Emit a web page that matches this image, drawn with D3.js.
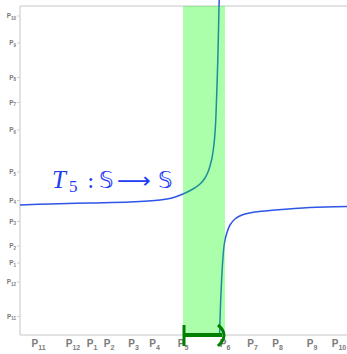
<!DOCTYPE html>
<html><head><meta charset="utf-8">
<script src="https://cdn.jsdelivr.net/npm/d3@7"></script>
<style>body{margin:0;background:#fff}svg{display:block}</style>
</head><body>
<script>
// tick positions (same scale on both axes) and their labels
const tickLabels = ["11","12","1","2","3","4","5","6","7","8","9","10"];
const tickValues = [18.5, 53, 72, 89, 113.5, 134.5, 163, 205, 232.5, 257.5, 292, 319];
// curve branches [x, y]
const leftBranch = [[0,130],[30,131],[70,132],[110,133],[140,135],[152,137],[163,141],[173,146],[180,151],[185,157],[188,163],[190,169],[192,177],[194,191],[195.5,210],[196.5,235],[197.5,265],[198.3,295],[199,329],[199.3,338]];
const rightBranch = [[199.6,0],[200,15],[200.7,35],[201.6,55],[202.8,75],[204.3,91],[206.5,101],[210,110],[215,116],[222,120],[235,123],[255,125],[290,127.5],[327,128.5]];
const bandFrom = 6, bandTo = 7; // indices of P5 and P6
const titleParts = ["T", "5", ":", "𝕊", "⟶", "𝕊"];

const W = 347, H = 354;
const svg = d3.select("body").append("svg").attr("width", W).attr("height", H);
const x = d3.scaleLinear().domain([0, 327]).range([20, 347]);
const y = d3.scaleLinear().domain([0, 329]).range([335, 6]);

// frame lines
const g = svg.append("g");
g.append("line").attr("x1", x(0)).attr("x2", x(327)).attr("y1", y(329)).attr("y2", y(329)).attr("stroke", "#d9d9d9").attr("stroke-width", 1.5);
g.append("line").attr("x1", x(0)).attr("x2", x(327)).attr("y1", y(0)).attr("y2", y(0)).attr("stroke", "#d9d9d9").attr("stroke-width", 1.5);
g.append("line").attr("x1", x(0)).attr("x2", x(0)).attr("y1", y(0)).attr("y2", y(329)).attr("stroke", "#d9d9d9").attr("stroke-width", 1.5);

// y ticks and labels
const yl = svg.append("g").attr("fill", "#7a7a7a").attr("font-family", "Liberation Sans, Arial, sans-serif").attr("font-weight", "bold");
tickValues.forEach((v, i) => {
  yl.append("line").attr("x1", x(0) - 3).attr("x2", x(0)).attr("y1", y(v)).attr("y2", y(v)).attr("stroke", "#cfcfcf").attr("stroke-width", 1);
  const t = yl.append("text").attr("x", 16).attr("y", y(v) + 2).attr("text-anchor", "end").attr("font-size", 6.5);
  t.append("tspan").text("P");
  t.append("tspan").attr("font-size", 4.5).attr("dy", 1.5).text(tickLabels[i]);
});
// x labels
const xl = svg.append("g").attr("fill", "#7a7a7a").attr("font-family", "Liberation Sans, Arial, sans-serif").attr("font-weight", "bold");
tickValues.forEach((v, i) => {
  const t = xl.append("text").attr("x", x(v)).attr("y", 347).attr("text-anchor", "middle").attr("font-size", 10);
  t.append("tspan").text("P");
  t.append("tspan").attr("font-size", 7).attr("dy", 3).text(tickLabels[i]);
});

// curve
const line = d3.line().x(d => x(d[0])).y(d => y(d[1])).curve(d3.curveCatmullRom.alpha(0.5));
[leftBranch, rightBranch].forEach(b => {
  svg.append("path").attr("d", line(b)).attr("fill", "none").attr("stroke", "#2d55e8").attr("stroke-width", 1.5);
});

// green band
const x5 = x(tickValues[bandFrom]), x6 = x(tickValues[bandTo]);
svg.append("rect").attr("x", x5).attr("width", x6 - x5).attr("y", y(329)).attr("height", y(0) - y(329))
  .attr("fill", "#00ff00").attr("opacity", 0.33);

// title text
const tg = svg.append("g").attr("fill", "#1f3cf5");
tg.append("text").attr("x", 52).attr("y", 188).attr("font-family", "Liberation Serif, serif").attr("font-style", "italic").attr("font-size", 25).text(titleParts[0]);
tg.append("text").attr("x", 69).attr("y", 192).attr("font-family", "Liberation Serif, serif").attr("font-size", 17).text(titleParts[1]);
tg.append("text").attr("x", 87).attr("y", 188).attr("font-family", "DejaVu Serif, serif").attr("font-size", 22).text(titleParts[2]);
tg.append("text").attr("x", 99).attr("y", 188).attr("font-family", "DejaVu Sans, serif").attr("font-size", 23).text(titleParts[3]);
tg.append("text").attr("x", 117).attr("y", 188).attr("textLength", 34).attr("lengthAdjust", "spacingAndGlyphs").attr("font-family", "DejaVu Sans, serif").attr("font-size", 22).text(titleParts[4]);
tg.append("text").attr("x", 158).attr("y", 188).attr("font-family", "DejaVu Sans, serif").attr("font-size", 23).text(titleParts[5]);

// green arrow
const ag = svg.append("g").attr("stroke", "#008000").attr("fill", "none").attr("stroke-linecap", "butt");
ag.append("line").attr("x1", x5).attr("x2", x6 - 3).attr("y1", y(0)).attr("y2", y(0)).attr("stroke-width", 4);
ag.append("line").attr("x1", x5 + 1).attr("x2", x5 + 1).attr("y1", y(0) - 10).attr("y2", y(0) + 11).attr("stroke-width", 3);
ag.append("path").attr("d", `M${x6 - 7},${y(0) - 10} Q${x6 + 5},${y(0)} ${x6 - 7},${y(0) + 11}`).attr("stroke-width", 3);
</script>
</body></html>
